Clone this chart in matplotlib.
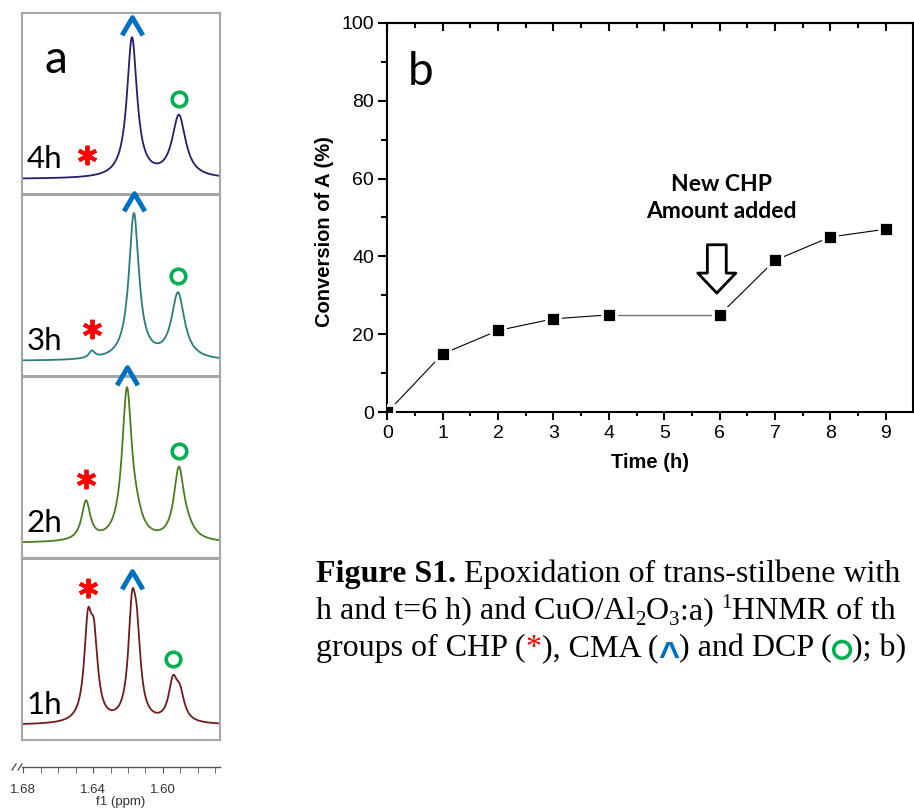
import numpy as np
import matplotlib
matplotlib.use('Agg')
import matplotlib.pyplot as plt
import matplotlib.patheffects as pe
from matplotlib.path import Path
from matplotlib.markers import MarkerStyle
from matplotlib.lines import Line2D

W, H = 914, 809

# ---- panel b data ----
time_h = [0, 1, 2, 3, 4, 6, 7, 8, 9]
conversion = [0, 15, 21, 24, 25, 25, 39, 45, 47]

# ---- panel a data: peaks (ppm, amplitude, half width ppm) ----
spec_labels = ['4h', '3h', '2h', '1h']
spec_colors = ['#2d1b6b', '#2a7d7b', '#4b7d22', '#701c1c']
peaks_4h = [(1.6177, 140, 0.0035), (1.5909, 62, 0.0047)]
peaks_3h = [(1.6406, 7, 0.0020), (1.6166, 146, 0.0035), (1.5914, 66, 0.0045)]
peaks_2h = [(1.6440, 39, 0.0030), (1.6206, 150, 0.0034), (1.6150, 12, 0.0040),
            (1.5909, 70, 0.0035), (1.5860, 8, 0.0050)]
peaks_1h = [(1.6429, 89, 0.0026), (1.6394, 71, 0.0026), (1.6177, 99, 0.0026),
            (1.6149, 69, 0.0026), (1.5943, 38, 0.0030), (1.5903, 25, 0.0030)]
spec_peaks = [peaks_4h, peaks_3h, peaks_2h, peaks_1h]
star_ppm = [1.6434, 1.6406, 1.6440, 1.6429]
caret_ppm = [1.6177, 1.6166, 1.6206, 1.6177]
ring_ppm = [1.5909, 1.5914, 1.5909, 1.5943]
ppm_lo, ppm_hi = 1.5674, 1.6806


def lorentz_sum(x, peaks):
    y = np.zeros_like(x)
    for c, a, g in peaks:
        y += a / (1 + ((x - c) / g) ** 2)
    return y


fig = plt.figure(figsize=(W / 100, H / 100), dpi=100)


def px_axes(left, top, right, bottom):
    return fig.add_axes([left / W, 1 - bottom / H, (right - left) / W, (bottom - top) / H])


caret_marker = MarkerStyle(Path([(-1, -0.85), (0, 0.85), (1, -0.85)],
                                [Path.MOVETO, Path.LINETO, Path.LINETO]), joinstyle='miter')

box_tops = [13, 195, 377, 559]
xs = np.linspace(ppm_lo, ppm_hi, 900)
for i, top in enumerate(box_tops):
    ax = px_axes(22, top, 220, top + 181)
    ys = lorentz_sum(xs, spec_peaks[i])
    ax.plot(xs, ys, color=spec_colors[i], lw=1.3)
    ax.set_xlim(ppm_hi, ppm_lo)
    ax.set_ylim(-15, 166)
    ax.set_xticks([])
    ax.set_yticks([])
    for sp in ax.spines.values():
        sp.set_color('#a6a6a6')
        sp.set_linewidth(1.5)
    ys_star = lorentz_sum(np.array([star_ppm[i]]), spec_peaks[i])[0]
    ys_caret = lorentz_sum(np.array([caret_ppm[i]]), spec_peaks[i])[0]
    ys_ring = lorentz_sum(np.array([ring_ppm[i]]), spec_peaks[i])[0]
    ax.plot([star_ppm[i]], [ys_star + 21], marker=(6, 2, 0), ms=14, mew=2.8,
            color='#ff0000', clip_on=False, zorder=5)
    ax.plot([caret_ppm[i]], [ys_caret + 11], marker=caret_marker, ms=15, mew=3.5,
            mfc='none', mec='#0070c0', clip_on=False, zorder=5)
    ax.plot([ring_ppm[i]], [ys_ring + 16], marker='o', ms=10.5, mew=2.6,
            mfc='none', mec='#00b050', clip_on=False, zorder=5)
    ax.text(0.025, 0.145, spec_labels[i], transform=ax.transAxes, family='Lato',
            fontsize=22.5, va='baseline', ha='left')
    if i == 0:
        ax.text(0.116, 0.667, 'a', transform=ax.transAxes, family='Lato',
                fontsize=33, va='baseline', ha='left')

# ppm scale under the spectra
axp = px_axes(22, 766, 220, 767)
axp.set_xlim(ppm_hi, ppm_lo)
axp.set_yticks([])
for name, sp in axp.spines.items():
    sp.set_visible(name == 'bottom')
axp.spines['bottom'].set_color('#555555')
axp.spines['bottom'].set_linewidth(1)
axp.patch.set_alpha(0)
axp.set_xticks([1.68, 1.64, 1.60])
axp.set_xticklabels(['1.68', '1.64', '1.60'])
axp.set_xticks(np.arange(1.57, 1.681, 0.01), minor=True)
axp.tick_params(axis='x', which='both', length=4, color='#555555', labelsize=9.5,
                labelcolor='#333333', pad=8)
for lab in axp.get_xticklabels():
    lab.set_family('Liberation Sans')
axp.set_xlabel('f1 (ppm)', fontsize=9.5, family='Liberation Sans', color='#333333', labelpad=0)
for x1, x2 in [(12, 16), (18, 22)]:
    fig.add_artist(Line2D([x1 / W, x2 / W], [1 - 770 / H, 1 - 764 / H],
                          transform=fig.transFigure, color='#555555', lw=1))

# ---- panel b ----
ax = px_axes(387.3, 22.7, 913.4, 412.3)
ax.plot(time_h[:5], conversion[:5], color='black', lw=0.8, zorder=2)
ax.plot(time_h[4:6], conversion[4:6], color='#777777', lw=1.0, zorder=2)
ax.plot(time_h[5:], conversion[5:], color='black', lw=0.8, zorder=2)
ax.plot(time_h, conversion, 's', ms=10.5, mfc='black', mec='white', mew=2, zorder=3)
ax.set_xlim(0, 9.5)
ax.set_ylim(0, 100)
ax.set_xticks(range(0, 10))
ax.set_xticks(np.arange(0.5, 9.5, 1.0), minor=True)
ax.set_yticks(range(0, 101, 20))
ax.set_yticks(range(10, 100, 20), minor=True)
for sp in ax.spines.values():
    sp.set_linewidth(1.5)
ax.tick_params(axis='both', which='major', labelsize=14, width=1.5)
ax.tick_params(axis='x', which='major', direction='out', length=6, pad=3)
ax.tick_params(axis='x', which='minor', direction='out', length=3, width=1.5)
ax.tick_params(axis='y', which='major', direction='out', length=6.5, pad=3)
ax.tick_params(axis='y', which='minor', direction='out', length=4, width=1.5)
for lab in ax.get_xticklabels() + ax.get_yticklabels():
    lab.set_family('Liberation Sans')
top = ax.secondary_xaxis('top')
top.set_xticks(range(0, 10))
top.set_xticks(np.arange(0.5, 9.5, 1.0), minor=True)
top.tick_params(axis='x', which='major', direction='in', length=6, width=1.5, labeltop=False)
top.tick_params(axis='x', which='minor', direction='in', length=3.5, width=1.5)
top.spines['top'].set_linewidth(1.5)

ax.set_xlabel('Time (h)', family='Liberation Sans', fontsize=14.5, fontweight='bold', labelpad=8)
ax.set_ylabel('Conversion of A (%)', family='Liberation Sans', fontsize=14.5, fontweight='bold')
ax.yaxis.set_label_coords(-0.101, 0.463)

ax.text(0.37, 84, 'b', family='Lato', fontsize=33, va='baseline', ha='left')
ax.text(6.04, 56.8, 'New CHP', family='Lato', fontweight='bold', fontsize=16.5,
        ha='center', va='baseline')
ax.text(6.04, 49.9, 'Amount added', family='Lato', fontweight='bold', fontsize=16.5,
        ha='center', va='baseline')
ax.annotate('', xy=(5.95, 30.6), xytext=(5.95, 43.0),
            arrowprops=dict(arrowstyle='simple,head_length=0.72,head_width=1.37,tail_width=0.68',
                            fc='white', ec='black', lw=2, mutation_scale=20,
                            shrinkA=0, shrinkB=0))

# ---- caption ----
renderer = fig.canvas.get_renderer()


def measure(s, kw):
    t1 = fig.text(0, 0, s + 'l', **kw)
    t2 = fig.text(0, 0, 'l', **kw)
    w = t1.get_window_extent(renderer).width - t2.get_window_extent(renderer).width
    t1.remove()
    t2.remove()
    return w


def text_run(x, y, pieces):
    for s, kw, dy in pieces:
        fig.text(x / W, 1 - (y + dy) / H, s, va='baseline', ha='left', **kw)
        kw_m = {k: v for k, v in kw.items() if k != 'path_effects'}
        x += measure(s, kw_m)


serif = dict(family='Liberation Serif', fontsize=23)
serif_b = dict(family='Liberation Serif', fontsize=23, fontweight='bold')
small = dict(family='Liberation Serif', fontsize=15)

text_run(316, 582, [('Figure S1.', serif_b, 0),
                    (' Epoxidation of trans-stilbene with', serif, 0)])
text_run(316, 619, [('h and t=6 h) and CuO/Al', serif, 0), ('2', small, 6),
                    ('O', serif, 0), ('3', small, 6), (':a) ', serif, 0),
                    ('1', small, -11), ('HNMR of th', serif, 0)])
text_run(316, 656, [('groups of CHP (', serif, 0),
                    ('*', dict(family='Liberation Serif', fontsize=23, color='#ff0000'), 0),
                    ('), CMA (', serif, 0),
                    ('^', dict(family='Liberation Sans', fontweight='bold', fontsize=26,
                               color='#0070c0'), 11),
                    (') and DCP (', serif, 0),
                    ('\u25cb', dict(family='DejaVu Sans', fontsize=17, color='#00b050',
                                    path_effects=[pe.withStroke(linewidth=1.6,
                                                                foreground='#00b050')]), 0),
                    ('); b) s', serif, 0)])

fig.savefig('out.png', dpi=100)
